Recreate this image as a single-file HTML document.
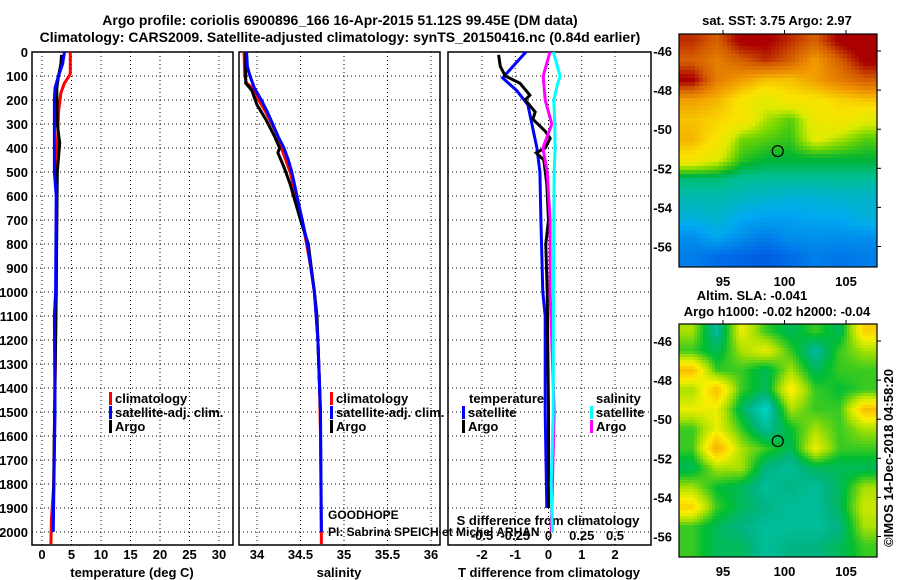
<!DOCTYPE html>
<html><head><meta charset="utf-8"><style>
body{margin:0;background:#fff}
svg{display:block;font-family:"Liberation Sans",sans-serif}
.b{font-weight:bold;font-size:13px}
</style></head><body>
<svg id="c" width="900" height="580">
<text x="340" y="25" text-anchor="middle" class="b" style="font-size:14px">Argo profile: coriolis 6900896_166 16-Apr-2015 51.12S 99.45E (DM data)</text>
<text x="340" y="42" text-anchor="middle" class="b" style="font-size:14px">Climatology: CARS2009. Satellite-adjusted climatology: synTS_20150416.nc (0.84d earlier)</text>
</svg>
<script>
// ---------- data ----------
const depthTicks=[0,100,200,300,400,500,600,700,800,900,1000,1100,1200,1300,1400,1500,1600,1700,1800,1900,2000];
const tTicks=[0,5,10,15,20,25,30];
const sTicks=[34,34.5,35,35.5,36];
const dTicks=[-2,-1,0,1,2];
const dTickLabels=["-2","-1","0","1","2"];
const sdTickLabels=["-0.5","-0.25","0","0.25","0.5"];
const tempClimDepth=[0,90,100,130,170,250,400,600,1000,1400,1800,1950,2050];
const tempClim=[4.8,4.8,4.6,3.8,3.2,2.8,2.6,2.5,2.4,2.2,2.0,1.6,1.5];
const tempSatDepth=[0,50,100,150,200,500,600,1000,1100,1500,2000];
const tempSat=[3.8,3.5,2.8,2.2,2.1,2.1,2.4,2.3,2.1,2.2,1.9];
const tempArgoDepth=[12,50,100,150,300,380,500,1000,1950];
const tempArgo=[3.3,3.2,2.8,2.5,2.6,3.0,2.6,2.4,1.9];
const salClimDepth=[0,100,130,150,200,250,300,350,400,450,500,600,700,800,900,1000,1100,1200,1400,1600,2050];
const salClim=[33.85,33.86,33.88,33.95,34.02,34.1,34.17,34.24,34.28,34.33,34.38,34.45,34.52,34.57,34.62,34.66,34.68,34.7,34.72,34.73,34.74];
const salSatDepth=[0,60,100,150,200,250,300,350,400,450,500,600,700,800,900,1000,1200,1500,2000];
const salSat=[33.88,33.89,33.92,33.97,34.05,34.12,34.18,34.24,34.31,34.36,34.4,34.46,34.52,34.58,34.62,34.66,34.7,34.73,34.74];
const salArgoDepth=[0,130,160,220,280,350,400,420,480,550,700,800,1000,1100,1500,1560];
const salArgo=[33.87,33.87,33.94,34.0,34.1,34.2,34.26,34.24,34.31,34.38,34.5,34.59,34.66,34.69,34.73,34.73];
const dTSatDepth=[0,108,160,220,300,400,500,700,1000,1100,1500,1900];
const dTSat=[-0.68,-1.38,-0.96,-0.62,-0.5,-0.35,-0.26,-0.23,-0.17,-0.1,-0.1,-0.05];
const dTArgoDepth=[12,60,100,130,180,200,250,280,330,360,400,420,450,550,700,800,1000,1500,1900];
const dTArgo=[-1.5,-1.45,-1.3,-0.86,-0.56,-0.7,-0.4,-0.47,-0.1,0.05,-0.1,-0.37,-0.14,-0.05,0,-0.08,-0.04,0,0];
const dSSatDepth=[0,100,130,200,300,400,500,700,1000,1500,1800,2000];
const dSSat=[0.037,0.087,0.07,0.04,0.047,0.05,0.043,0.04,0.037,0.035,0.02,0.03];
const dSArgoDepth=[0,100,200,300,400,500,700,1000,1500,2000];
const dSArgo=[0.011,-0.04,-0.025,0.025,-0.042,-0.01,0.012,0.012,0.043,0.02];
const sstLats=[-45.5,-46.5,-47.5,-48.5,-49.5,-50.5,-51.5,-52.5,-53.5,-54.5,-55.5,-56.5];
const sstLons=[92.5,94.5,96.5,98.5,100.5,102.5,104.5,106.5];
const sstGrid=[
[0.9,0.85,0.95,0.95,0.9,0.85,0.95,0.98],
[0.85,0.8,0.85,0.9,0.85,0.75,0.85,0.95],
[0.95,0.8,0.75,0.7,0.7,0.75,0.8,0.85],
[0.75,0.72,0.65,0.6,0.65,0.65,0.68,0.7],
[0.7,0.68,0.65,0.55,0.5,0.62,0.65,0.6],
[0.72,0.65,0.52,0.5,0.48,0.6,0.55,0.5],
[0.65,0.6,0.48,0.45,0.45,0.45,0.45,0.45],
[0.42,0.42,0.4,0.4,0.4,0.4,0.4,0.4],
[0.38,0.38,0.37,0.36,0.35,0.35,0.36,0.36],
[0.35,0.36,0.33,0.32,0.32,0.33,0.33,0.35],
[0.3,0.33,0.3,0.28,0.3,0.3,0.3,0.3],
[0.28,0.26,0.25,0.24,0.26,0.28,0.27,0.28]];
const slaGrid=[
[0.6,0.3,0.7,0.5,0.4,0.5,0.4,0.8],
[0.5,0.4,0.6,0.7,0.5,0.3,0.5,0.6],
[0.85,0.5,0.5,0.4,0.6,0.4,0.5,0.5],
[0.6,0.85,0.5,0.4,0.75,0.5,0.45,0.5],
[0.7,0.7,0.4,0.2,0.6,0.5,0.5,0.85],
[0.5,0.7,0.5,0.3,0.45,0.6,0.5,0.6],
[0.5,0.9,0.6,0.5,0.4,0.7,0.5,0.5],
[0.4,0.6,0.6,0.35,0.3,0.4,0.4,0.4],
[0.6,0.45,0.4,0.3,0.35,0.3,0.4,0.6],
[0.8,0.5,0.4,0.35,0.3,0.3,0.4,0.65],
[0.5,0.4,0.35,0.3,0.3,0.3,0.35,0.6],
[0.5,0.4,0.4,0.3,0.35,0.35,0.4,0.5]];
const mapLatTicks=[-46,-48,-50,-52,-54,-56];
const mapLonTicks=[95,100,105];
const floatLon=99.45, floatLat=-51.12;

// ---------- helpers ----------
const svg=document.getElementById('c');
const NS='http://www.w3.org/2000/svg';
function el(t,a,p){const e=document.createElementNS(NS,t);for(const k in a)e.setAttribute(k,a[k]);(p||svg).appendChild(e);return e;}
const Y0=52,YB=545;
const yD=d=>Y0+d*0.24;
function lin(d0,d1,r0,r1){return v=>r0+(v-d0)/(d1-d0)*(r1-r0);}
const xT=lin(0,30,42,219), xS=lin(34,36,257,431), xD=lin(-2,2,482,615), xSD=v=>xD(v*4);
const panels=[[32,233,'temperature-panel'],[239,440,'salinity-panel'],[448,651,'difference-panel']];

panels.forEach(([l,r,n],i)=>{
  const g=el('g',{});
  
  
  depthTicks.forEach(d=>{el('line',{x1:l,x2:r,y1:yD(d),y2:yD(d),stroke:'#000','stroke-width':1,'stroke-dasharray':'1,3'},g);});
  const xs=i==0?tTicks.map(xT):i==1?sTicks.map(xS):dTicks.map(xD);
  xs.forEach(x=>{el('line',{x1:x,x2:x,y1:Y0,y2:YB,stroke:'#000','stroke-width':1,'stroke-dasharray':'1,3'},g);});
  el('rect',{x:l,y:Y0,width:r-l,height:YB-Y0,fill:'none',stroke:'#000','stroke-width':1.5},g);
});
depthTicks.forEach(d=>{
  const t=el('text',{x:28,y:yD(d)+5,'text-anchor':'end',class:'b'});t.textContent=d;
  
  
});
function xlabels(ticks,fx,y,labels,name){ticks.forEach((v,i)=>{const t=el('text',{x:fx(v),y:y,'text-anchor':'middle',class:'b'});t.textContent=labels?labels[i]:v;
  
  });}
xlabels(tTicks,xT,559,null,'temperature-tick-label');
xlabels(sTicks,xS,559,null,'salinity-tick-label');
xlabels(dTicks,xD,559,dTickLabels,'t-diff-tick-label');
xlabels(dTicks,xD,540,sdTickLabels,'s-diff-tick-label');
function txt(x,y,s,name,anchor,cls,extra){const t=el('text',Object.assign({x:x,y:y,'text-anchor':anchor||'start',class:cls||'b'},extra||{}));t.textContent=s;
  
  return t;}
txt(132,577,'temperature (deg C)','x-axis-title-temperature','middle');
txt(339,577,'salinity','x-axis-title-salinity','middle');
txt(549,577,'T difference from climatology','x-axis-title-t-diff','middle');
txt(548,525,'S difference from climatology','x-axis-title-s-diff','middle');

function line(depths,vals,fx,color,name,w){
  const pts=depths.map((d,i)=>fx(vals[i]).toFixed(1)+','+yD(d).toFixed(1)).join(' ');
  const p=el('polyline',{points:pts,fill:'none',stroke:color,'stroke-width':w||3,'stroke-linejoin':'miter'});
  
  
}
line(tempClimDepth,tempClim,xT,'#f00','temp-climatology-line');
line(tempArgoDepth,tempArgo,xT,'#000','temp-argo-line');
line(tempSatDepth,tempSat,xT,'#00f','temp-satellite-line');
line(salClimDepth,salClim,xS,'#f00','sal-climatology-line');
line(salArgoDepth,salArgo,xS,'#000','sal-argo-line');
line(salSatDepth,salSat,xS,'#00f','sal-satellite-line');
line(dTSatDepth,dTSat,xD,'#00f','t-diff-satellite-line');
line(dTArgoDepth,dTArgo,xD,'#000','t-diff-argo-line');
line(dSArgoDepth,dSArgo,xSD,'#f0f','s-diff-argo-line');
line(dSSatDepth,dSSat,xSD,'#0ff','s-diff-satellite-line');

function leg(x,y,color,label,name){
  const r=el('rect',{x:x,y:y-11,width:3,height:13,fill:color});
  
  
  txt(x+6,y,label,name);
}
[[109,'#f00','climatology'],[109,'#00f','satellite-adj. clim.'],[109,'#000','Argo']].forEach((l,i)=>leg(l[0],403+i*14,l[1],l[2],'temp-legend-entry'));
[[330,'#f00','climatology'],[330,'#00f','satellite-adj. clim.'],[330,'#000','Argo']].forEach((l,i)=>leg(l[0],403+i*14,l[1],l[2],'sal-legend-entry'));
txt(469,403,'temperature','t-diff-legend-title');
leg(462,417,'#00f','satellite','t-diff-legend-entry');
leg(462,431,'#000','Argo','t-diff-legend-entry');
txt(596,403,'salinity','s-diff-legend-title');
leg(590,417,'#0ff','satellite','s-diff-legend-entry');
leg(590,431,'#f0f','Argo','s-diff-legend-entry');
txt(328,519,'GOODHOPE','project-label','start','',{style:'font-size:12px'});
txt(328,536,'PI: Sabrina SPEICH et Michel ARHAN','pi-label','start','',{style:'font-size:12px'});

function cmapSST(v){const s=[[0.2,[0,60,200]],[0.25,[0,100,230]],[0.33,[0,170,240]],[0.4,[0,190,150]],[0.45,[0,180,50]],[0.52,[120,215,0]],[0.58,[220,235,0]],[0.66,[250,225,0]],[0.76,[240,150,0]],[0.86,[210,90,0]],[0.94,[170,0,0]]];return interpC(s,v);}
function cmapSLA(v){const s=[[0.2,[0,210,200]],[0.35,[0,180,130]],[0.45,[0,190,50]],[0.6,[170,225,0]],[0.72,[250,240,0]],[0.85,[250,190,0]]];return interpC(s,v);}
function interpC(s,v){if(v<=s[0][0])return s[0][1];for(let i=1;i<s.length;i++){if(v<=s[i][0]){const f=(v-s[i-1][0])/(s[i][0]-s[i-1][0]);return s[i-1][1].map((c,k)=>Math.round(c+f*(s[i][1][k]-c)));}}return s[s.length-1][1];}
function sample(grid,lon,lat){
  let fi=(lat-sstLats[0])/(sstLats[1]-sstLats[0]),fj=(lon-sstLons[0])/(sstLons[1]-sstLons[0]);
  fi=Math.max(0,Math.min(grid.length-1.001,fi));fj=Math.max(0,Math.min(grid[0].length-1.001,fj));
  const i=Math.floor(fi),j=Math.floor(fj),a=fi-i,b=fj-j;
  return grid[i][j]*(1-a)*(1-b)+grid[i+1][j]*a*(1-b)+grid[i][j+1]*(1-a)*b+grid[i+1][j+1]*a*b;
}
function drawMap(top,bot,grid,cmap,block,name){
  const L=679,R=877;
  const xL=lin(95,105,723,846);
  const yL=lin(-46,-56,top+(bot-top)*0.073,top+(bot-top)*0.912);
  const g=el('g',{});
  
  
  for(let y=top;y<bot;y+=block)for(let x=L;x<R;x+=block){
    const lon=95+(x+block/2-723)/(846-723)*10,lat=-46+(y+block/2-yL(-46))/(yL(-56)-yL(-46))*-10;
    const c=cmap(sample(grid,lon,lat));
    el('rect',{x:x,y:y,width:Math.min(block,R-x)+0.3,height:Math.min(block,bot-y)+0.3,fill:`rgb(${c})`},g);
  }
  el('rect',{x:L,y:top,width:R-L,height:bot-top,fill:'none',stroke:'#000','stroke-width':1.2},g);
  mapLatTicks.forEach(t=>{const y=yL(t);el('line',{x1:R,x2:R+4,y1:y,y2:y,stroke:'#000'},g);txt(672,y+5,t,'map-lat-tick-label','end');});
  mapLonTicks.forEach(t=>{const x=xL(t);el('line',{x1:x,x2:x,y1:top-4,y2:top,stroke:'#000'},g);txt(x,bot+19,t,'map-lon-tick-label','middle');});
  const c=el('circle',{cx:xL(floatLon),cy:yL(floatLat),r:5.5,fill:'none',stroke:'#000','stroke-width':1.2},g);
  
  
}
drawMap(34,267,sstGrid,cmapSST,4,'sst-map');
drawMap(324,557,slaGrid,cmapSLA,3,'sla-map');
txt(777,25,'sat. SST: 3.75 Argo: 2.97','sst-map-title','middle');
txt(752,300,'Altim. SLA: -0.041','sla-map-title','middle');
txt(777,316,'Argo h1000: -0.02 h2000: -0.04','argo-height-label','middle');
txt(0,0,'©IMOS 14-Dec-2018 04:58:20','copyright-label','middle','',{style:'font-size:13px',transform:'translate(893,458) rotate(-90)'});
</script>
</body></html>
